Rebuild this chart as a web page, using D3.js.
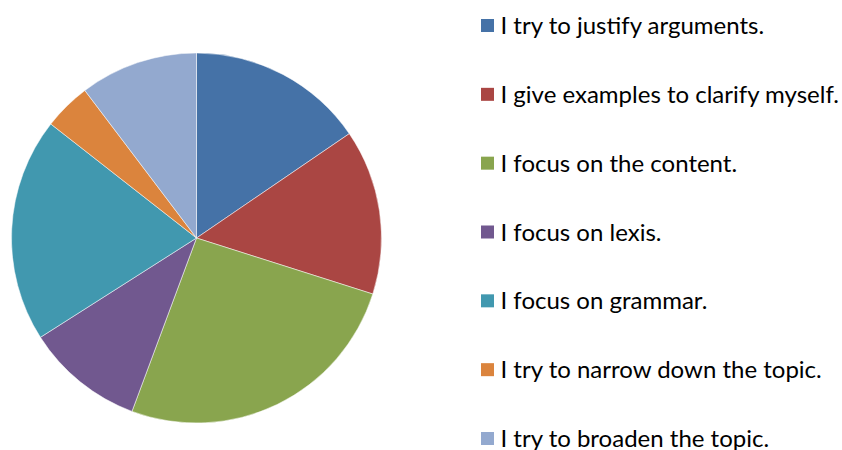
<!DOCTYPE html>
<html>
<head>
<meta charset="utf-8">
<script src="https://cdn.jsdelivr.net/npm/d3@7"></script>
<style>
  body { margin: 0; background: #fff; }
  text { font-family: Lato, "Open Sans", sans-serif; }
</style>
</head>
<body>
<script>
const width = 842;
const height = 450;

const categories = [
  'I try to justify arguments.',
  'I give examples to clarify myself.',
  'I focus on the content.',
  'I focus on lexis.',
  'I focus on grammar.',
  'I try to narrow down the topic.',
  'I try to broaden the topic.'
];
const values = [15, 14, 25, 10, 19, 4, 10];
const colors = ['#4572A7', '#AA4643', '#89A54E', '#71588F', '#4198AF', '#DB843D', '#93A9CF'];

const cx = 196.5, cy = 238, radius = 185;

const svg = d3.select('body').append('svg')
  .attr('width', width)
  .attr('height', height);

const color = d3.scaleOrdinal()
  .domain(categories)
  .range(colors);

const pie = d3.pie()
  .sort(null)
  .value(d => d.value);

const arc = d3.arc()
  .innerRadius(0)
  .outerRadius(radius);

const data = categories.map((c, i) => ({ name: c, value: values[i] }));

const g = svg.append('g')
  .attr('transform', `translate(${cx},${cy})`);

g.selectAll('.slice')
  .data(pie(data))
  .enter()
  .append('path')
  .attr('class', 'slice')
  .attr('d', arc)
  .attr('fill', d => color(d.data.name))
  .attr('stroke', '#fff')
  .attr('stroke-width', 0.5);

// legend
const legendY = d3.scalePoint()
  .domain(categories)
  .range([25.5, 438.5]);

const legend = svg.append('g')
  .selectAll('.legend')
  .data(categories)
  .enter()
  .append('g')
  .attr('class', 'legend')
  .attr('transform', d => `translate(481,${legendY(d)})`);

legend.append('rect')
  .attr('x', 0)
  .attr('y', -6.5)
  .attr('width', 13)
  .attr('height', 13)
  .attr('fill', d => color(d));

legend.append('text')
  .attr('x', 19.5)
  .attr('y', 8.5)
  .attr('font-size', 24)
  .attr('fill', '#000')
  .text(d => d);
</script>
</body>
</html>
